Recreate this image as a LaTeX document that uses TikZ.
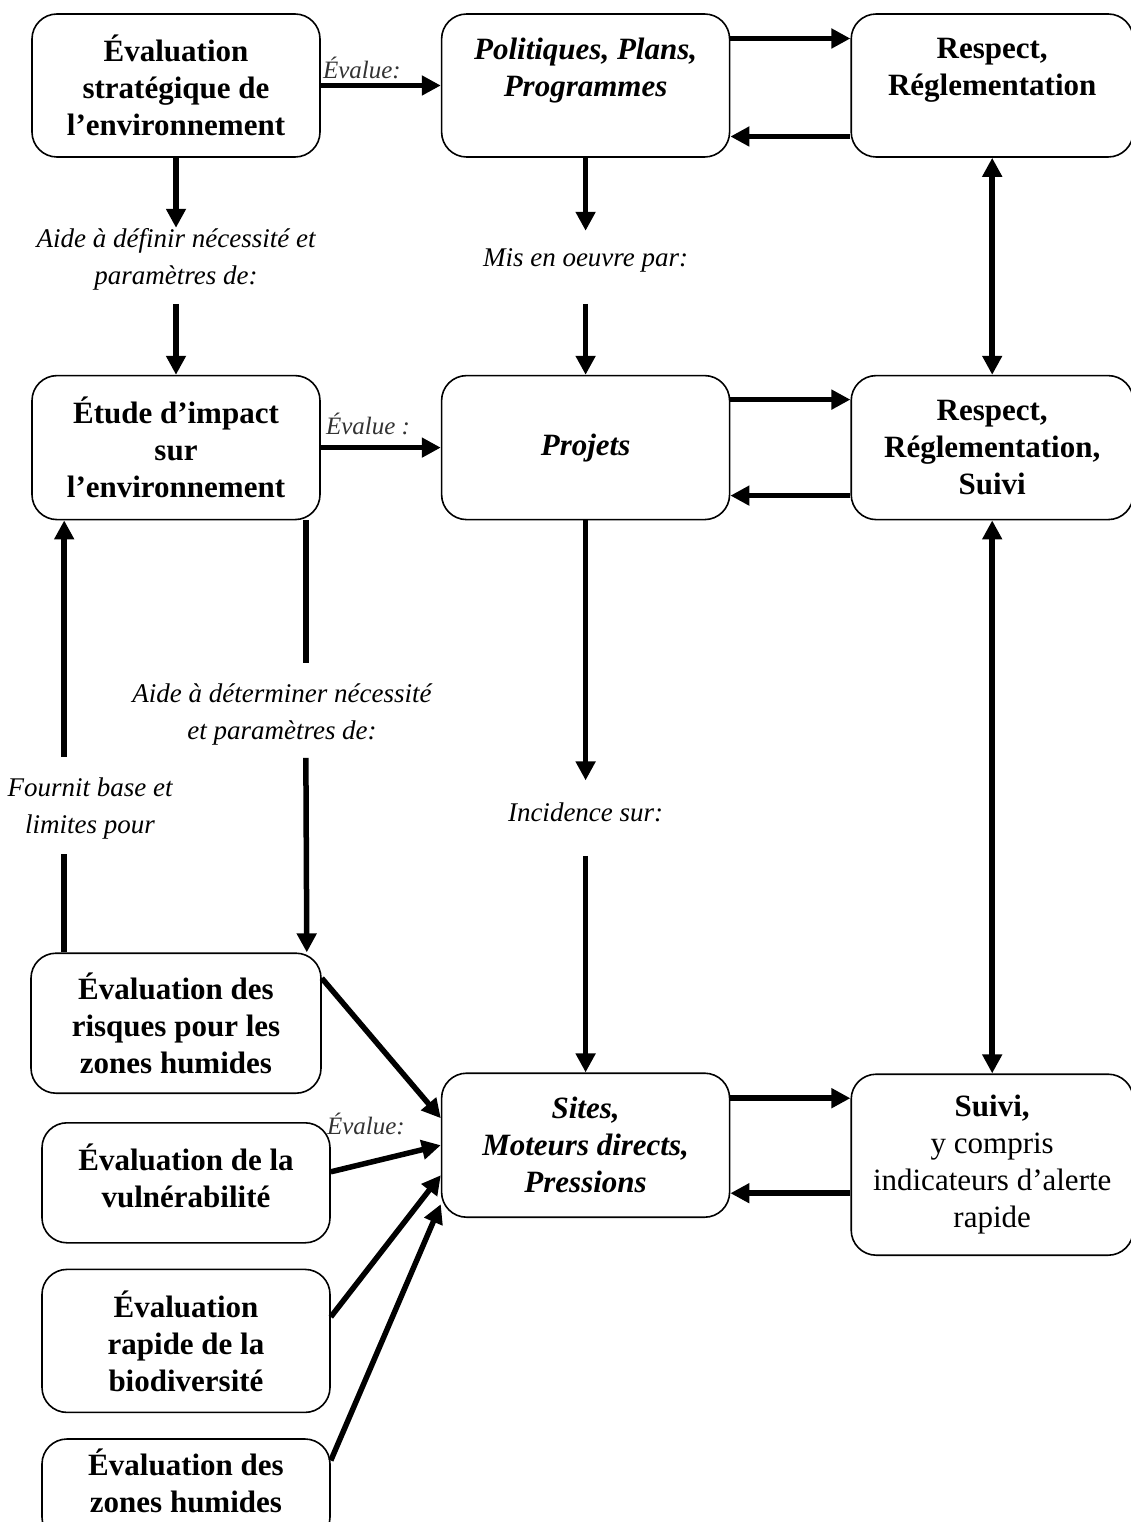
\documentclass[tikz,border=0pt]{standalone}
\usepackage{fontspec}
\setmainfont{Liberation Serif}
\usepackage{tikz}
\usetikzlibrary{arrows.meta, positioning}

\begin{document}
\begin{tikzpicture}[x=1pt, y=1pt]
		\tikzset{
			box/.style={rectangle, draw, black, line width=1.6pt, rounded corners=25pt, align=center,
			font=\fontsize{31}{37}\selectfont\bfseries, minimum width=288pt, inner sep=0pt},
			bi/.style={font=\fontsize{31}{37}\selectfont\bfseries\itshape},
			lbl/.style={align=center, inner sep=0pt, font=\fontsize{27}{37}\selectfont\itshape},
			evl/.style={anchor=base west, inner sep=0pt, text=black!80, font=\fontsize{25}{30}\selectfont\itshape},
			arr/.style={line width=5.5pt, -{Triangle[length=19pt, width=19pt]}},
			seg/.style={line width=5.5pt},
			twoway/.style={line width=5.5pt, {Triangle[length=19pt, width=19pt]}-{Triangle[length=19pt, width=19pt]}}
		}
		\useasboundingbox (0,0) rectangle (1131,-1522);

		\node[box, minimum height=143pt](ese) at (176,-85.5){Évaluation\\stratégique de\\l’environnement};
		\node[box, bi, minimum height=143pt, right=120pt of ese](ppp){Politiques, Plans,\\Programmes\\~};
		\node[box, minimum width=282pt, minimum height=143pt, right=120pt of ppp](resp){Respect,\\Réglementation\\~};

		\node[box, minimum height=144pt, below=217pt of ese](eie){Étude d’impact\\sur\\l’environnement};
		\node[box, bi, minimum height=144pt, below=217pt of ppp](proj){Projets};
		\node[box, minimum width=282pt, minimum height=144pt, below=217pt of resp](resp2){Respect,\\Réglementation,\\Suivi};

		\node[box, bi, minimum height=144pt, below=552pt of proj](sites){Sites,\\Moteurs directs,\\Pressions};
		\node[box, minimum width=282pt, minimum height=181pt, below=553pt of resp2,
			font=\fontsize{31}{37}\selectfont](suivi){\textbf{Suivi,}\\y compris\\indicateurs d’alerte\\rapide};

		\node[box, minimum width=290pt, minimum height=140pt, below=432pt of eie](risk){Évaluation des\\risques pour les\\zones humides};
		\node[box, minimum height=120pt, below=28pt of risk, xshift=10pt](vuln){Évaluation de la\\vulnérabilité\\[-23pt]~};
		\node[box, minimum height=143pt, below=25pt of vuln](rapid){Évaluation\\rapide de la\\biodiversité};
		\node[box, minimum height=103pt, below=25pt of rapid](zones){Évaluation des\\zones humides\\[-17pt]~};

		\node[lbl, below=70pt of ese](def){Aide à définir nécessité et\\paramètres de:};
		\node[lbl, below=91pt of ppp](mis){Mis en oeuvre par:};
		\node[lbl, below=282pt of proj](inc){Incidence sur:};
		\node[lbl](deter) at (282,-714){Aide à déterminer nécessité\\et paramètres de:};
		\node[lbl](fournit) at (90,-808.5){Fournit base et\\limites pour};

		\node[evl](ev1) at ([xshift=2pt, yshift=7pt]ese.east){Évalue:};
		\node[evl](ev2) at ([xshift=5pt, yshift=13pt]eie.east){Évalue :};
		\node[evl](ev3) at ([xshift=-4pt, yshift=48pt]vuln.east){Évalue:};

		\draw[arr](ese) -- (ppp);
		\draw[arr](eie) -- (proj);

		\draw[arr](ese) -- (def);
		\draw[arr, shorten <=14pt](def) -- (eie);
		\draw[arr, shorten >=18pt](ppp) -- (mis);
		\draw[arr, shorten <=31pt](mis) -- (proj);
		\draw[arr, shorten >=22pt](proj) -- (inc);
		\draw[arr, shorten <=34pt](inc) -- (sites);

		\draw[seg, shorten >=20pt]([xshift=-15pt]eie.south east) -- ([xshift=-15pt]eie.south east |- deter.north);
		\draw[arr, shorten <=13pt]([xshift=-15pt]eie.south east |- deter.south) -- ([xshift=-15pt]risk.north east);
		\draw[seg, shorten >=15pt]([xshift=34pt]risk.north west) -- ([xshift=34pt]risk.north west |- fournit.south);
		\draw[arr, shorten <=21pt]([xshift=34pt]risk.north west |- fournit.north) -- ([xshift=34pt]risk.north west |- eie.south);

		\draw[arr]([yshift=47pt]ppp.east) -- ([yshift=47pt]resp.west);
		\draw[arr]([yshift=-51pt]resp.west) -- ([yshift=-51pt]ppp.east);
		\draw[arr]([yshift=48pt]proj.east) -- ([yshift=48pt]resp2.west);
		\draw[arr]([yshift=-48pt]resp2.west) -- ([yshift=-48pt]proj.east);
		\draw[arr]([yshift=47pt]sites.east) -- ([yshift=47pt]sites.east -| suivi.west);
		\draw[arr]([yshift=-48pt]sites.east -| suivi.west) -- ([yshift=-48pt]sites.east);

		\draw[twoway](resp) -- (resp2);
		\draw[twoway](resp2) -- (suivi);

		\draw[arr]([yshift=45pt]risk.east) -- ([yshift=27pt]sites.west);
		\draw[arr]([yshift=11pt]vuln.east) -- (sites.west);
		\draw[arr]([yshift=24pt]rapid.east) -- ([yshift=-30pt]sites.west);
		\draw[arr]([yshift=30pt]zones.east) -- ([yshift=-59pt]sites.west);

	\end{tikzpicture}
\end{document}
